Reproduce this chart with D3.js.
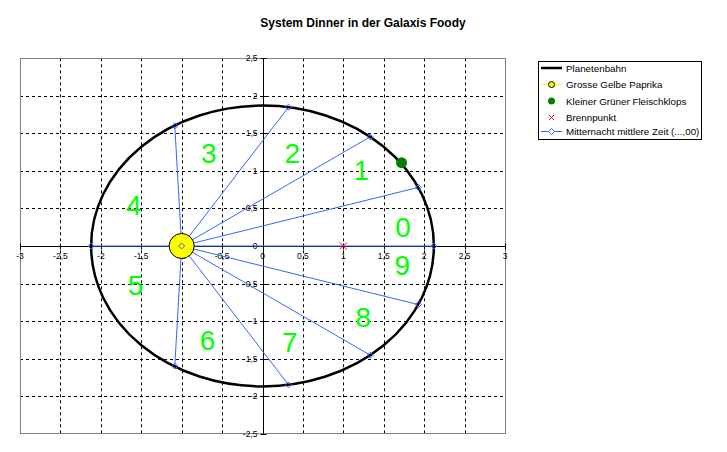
<!DOCTYPE html>
<meta charset="utf-8">
<title>System Dinner in der Galaxis Foody</title>
<script src="https://d3js.org/d3.v7.min.js"></script>
<style>
  body { margin: 0; background: #fff; }
  text { font-family: "Liberation Sans", Arial, sans-serif; }
</style>
<div id="chart"></div>
<script>

// ---- data ----
var xTicks = [-3, -2.5, -2, -1.5, -1, -0.5, 0, 0.5, 1, 1.5, 2, 2.5, 3];
var yTicks = [-2.5, -2, -1.5, -1, -0.5, 0, 0.5, 1, 1.5, 2, 2.5];

// orbit (Planetenbahn): semi axes, centre at 0,0
var orbitA = 2.12;
var orbitB = 1.87;

// Grosse Gelbe Paprika (sun) and Brennpunkt
var sunX = [-1], sunY = [0];
var focusX = [1], focusY = [0];

// Kleiner Gruener Fleischklops
var planetX = [1.72], planetY = [1.11];

// Mitternacht mittlere Zeit (...,00): points on the orbit
var midX = [-2.12, -1.085, 0.322, 1.333, 1.929, 2.12, 1.929, 1.333, 0.322, -1.085];
var midY = [0, 1.60, 1.849, 1.454, 0.781, 0, -0.781, -1.454, -1.849, -1.60];

// sector numbers
var sectorText = ["0", "1", "2", "3", "4", "5", "6", "7", "8", "9"];
var sectorX = [1.74, 1.225, 0.368, -0.665, -1.593, -1.572, -0.681, 0.338, 1.246, 1.729];
var sectorY = [0.26, 1.01, 1.234, 1.234, 0.546, -0.519, -1.252, -1.274, -0.941, -0.253];

var legendNames = ["Planetenbahn", "Grosse Gelbe Paprika", "Kleiner Grüner Fleischklops",
                   "Brennpunkt", "Mitternacht mittlere Zeit (...,00)"];

// ---- setup ----
var W = 727, H = 452;
var svg = d3.select("#chart").append("svg")
  .attr("width", W).attr("height", H);

var x = d3.scaleLinear().domain([-3, 3]).range([20, 505]);
var y = d3.scaleLinear().domain([-2.5, 2.5]).range([433.7, 58.3]);

var de = d3.formatLocale({decimal: ",", thousands: ".", grouping: [3], currency: ["", " €"], minus: "-"});
var fmt = de.format("~g");

var blue = "#3366ff";

// square diamond marker
var diamond = "M0,-3L3,0L0,3L-3,0Z";

// title
svg.append("text")
  .attr("x", 363).attr("y", 27)
  .attr("text-anchor", "middle")
  .style("font-size", "12px").style("font-weight", "bold")
  .text("System Dinner in der Galaxis Foody");

// gridlines
var grid = svg.append("g")
  .attr("stroke", "#000").attr("stroke-width", 1).attr("stroke-dasharray", "3,3");
grid.selectAll("line.v")
  .data(xTicks.filter(function(d){ return d != 0 && Math.abs(d) != 3; }))
  .enter().append("line")
    .attr("x1", function(d){ return Math.round(x(d)) + 0.5; })
    .attr("x2", function(d){ return Math.round(x(d)) + 0.5; })
    .attr("y1", y(2.5)).attr("y2", y(-2.5));
grid.selectAll("line.h")
  .data(yTicks.filter(function(d){ return d != 0 && Math.abs(d) != 2.5; }))
  .enter().append("line")
    .attr("y1", function(d){ return Math.round(y(d)) + 0.5; })
    .attr("y2", function(d){ return Math.round(y(d)) + 0.5; })
    .attr("x1", x(-3)).attr("x2", x(3));

// plot border
svg.append("rect")
  .attr("x", Math.round(x(-3)) + 0.5).attr("y", Math.round(y(2.5)) + 0.5)
  .attr("width", Math.round(x(3) - x(-3))).attr("height", Math.round(y(-2.5) - y(2.5)))
  .attr("fill", "none").attr("stroke", "#808080");

// axes through the origin
var x0 = Math.round(x(0)) + 0.5, y0 = Math.round(y(0)) + 0.5;
svg.append("line").attr("x1", x(-3)).attr("x2", x(3)).attr("y1", y0).attr("y2", y0).attr("stroke", "#000");
svg.append("line").attr("x1", x0).attr("x2", x0).attr("y1", y(2.5)).attr("y2", y(-2.5)).attr("stroke", "#000");

// tick marks
svg.selectAll("line.xt").data(xTicks).enter().append("line")
  .attr("x1", function(d){ return Math.round(x(d)) + 0.5; })
  .attr("x2", function(d){ return Math.round(x(d)) + 0.5; })
  .attr("y1", y0 - 3).attr("y2", y0 + 3).attr("stroke", "#000");
svg.selectAll("line.yt").data(yTicks).enter().append("line")
  .attr("y1", function(d){ return Math.round(y(d)) + 0.5; })
  .attr("y2", function(d){ return Math.round(y(d)) + 0.5; })
  .attr("x1", x0 - 3).attr("x2", x0 + 3).attr("stroke", "#000");

// tick labels
svg.selectAll("text.xl").data(xTicks).enter().append("text")
  .attr("x", function(d){ return x(d); })
  .attr("y", y0 + 12)
  .attr("text-anchor", "middle")
  .style("font-size", "8.5px")
  .text(function(d){ return fmt(d); });
svg.selectAll("text.yl").data(yTicks).enter().append("text")
  .attr("x", x0 - 6)
  .attr("y", function(d){ return y(d) + 3; })
  .attr("text-anchor", "end")
  .style("font-size", "8.5px")
  .text(function(d){ return fmt(d); });

// Mitternacht lines from the sun to each point
svg.append("g").selectAll("line").data(midX).enter().append("line")
  .attr("x1", x(sunX[0])).attr("y1", y(sunY[0]))
  .attr("x2", function(d){ return x(d); })
  .attr("y2", function(d, i){ return y(midY[i]); })
  .attr("stroke", blue).attr("stroke-width", 1);

// orbit
svg.append("ellipse")
  .attr("cx", x(0)).attr("cy", y(0))
  .attr("rx", x(orbitA) - x(0)).attr("ry", y(0) - y(orbitB))
  .attr("fill", "none").attr("stroke", "#000").attr("stroke-width", 2.5);

// sun
svg.append("circle")
  .attr("cx", x(sunX[0])).attr("cy", y(sunY[0])).attr("r", 12.5)
  .attr("fill", "#ffff00").attr("stroke", "#000");

// planet
svg.append("circle")
  .attr("cx", x(planetX[0])).attr("cy", y(planetY[0])).attr("r", 5.5)
  .attr("fill", "#008000");

// Mitternacht markers (incl. the one at the sun)
var markX = midX.concat(sunX), markY = midY.concat(sunY);
svg.append("g").selectAll("path").data(markX).enter().append("path")
  .attr("d", diamond)
  .attr("transform", function(d, i){ return "translate(" + x(d) + "," + y(markY[i]) + ")"; })
  .attr("fill", "none").attr("stroke", blue);

// Brennpunkt
svg.append("path")
  .attr("transform", "translate(" + x(focusX[0]) + "," + y(focusY[0]) + ")")
  .attr("d", "M-3.5,-3.5L3.5,3.5M-3.5,3.5L3.5,-3.5")
  .attr("stroke", "#ff0000").attr("stroke-width", 1);

// sector numbers
svg.append("g").selectAll("text").data(sectorText).enter().append("text")
  .attr("x", function(d, i){ return x(sectorX[i]); })
  .attr("y", function(d, i){ return y(sectorY[i]); })
  .attr("dy", "0.36em")
  .attr("text-anchor", "middle")
  .style("font-size", "28px")
  .attr("fill", "#00ff00")
  .text(function(d){ return d; });

// ---- legend ----
var lg = svg.append("g");
lg.append("rect")
  .attr("x", 538.5).attr("y", 61.5).attr("width", 163).attr("height", 78)
  .attr("fill", "#fff").attr("stroke", "#000");
var rowY = [68, 84.5, 101, 117.5, 131.5];
var sx1 = 541, sx2 = 562, sxm = 551.5;
lg.append("line").attr("x1", sx1).attr("x2", sx2).attr("y1", rowY[0]).attr("y2", rowY[0])
  .attr("stroke", "#000").attr("stroke-width", 2.5);
lg.append("line").attr("x1", sx1).attr("x2", sx2).attr("y1", rowY[1]).attr("y2", rowY[1])
  .attr("stroke", "#ffff00");
lg.append("circle").attr("cx", sxm).attr("cy", rowY[1]).attr("r", 3)
  .attr("fill", "#ffff00").attr("stroke", "#000");
lg.append("circle").attr("cx", sxm).attr("cy", rowY[2]).attr("r", 3.5)
  .attr("fill", "#008000");
lg.append("path").attr("transform", "translate(" + sxm + "," + rowY[3] + ")")
  .attr("d", "M-2.5,-2.5L2.5,2.5M-2.5,2.5L2.5,-2.5").attr("stroke", "#ff0000");
lg.append("line").attr("x1", sx1).attr("x2", sx2).attr("y1", rowY[4]).attr("y2", rowY[4])
  .attr("stroke", blue);
lg.append("path").attr("d", diamond)
  .attr("transform", "translate(" + sxm + "," + rowY[4] + ")")
  .attr("fill", "#fff").attr("stroke", blue);
lg.selectAll("text").data(legendNames).enter().append("text")
  .attr("x", 566)
  .attr("y", function(d, i){ return rowY[i] + 3.5; })
  .style("font-size", "9.8px")
  .text(function(d){ return d; });

</script>
